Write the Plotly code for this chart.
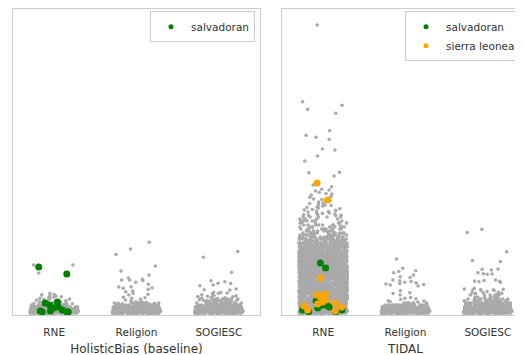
import numpy as np
import plotly.graph_objects as go

# ---------------- data (arbitrary score units) ----------------
categories = ["RNE", "Religion", "SOGIESC"]
panel_titles = ["HolisticBias (baseline)", "TIDAL"]

# dense cores read as a histogram: bin centres and number of points per bin
core_levels = [2, 4, 6, 8, 10, 12, 14, 16, 18, 20, 22, 24, 26, 28, 30, 32, 34, 36, 38, 40,
               42, 44, 46, 48, 50, 52, 54, 56, 58, 60, 62, 64, 66, 68, 70, 72, 74, 76, 78, 80,
               82, 84, 86, 88, 90, 92, 94, 96, 98]

hb_rne_core_counts = [60, 58, 52, 40, 16]
hb_religion_core_counts = [62, 60, 56, 48, 30, 8]
hb_sogiesc_core_counts = [62, 60, 56, 50, 38, 22, 12, 7]
tidal_rne_core_counts = [64, 64, 63, 63, 62, 62, 62, 61, 61, 61, 60, 60, 60, 60, 59, 59, 59, 58,
                         58, 58, 57, 57, 57, 56, 56, 56, 55, 55, 54, 52, 50, 47, 44, 40, 36, 32,
                         26, 22, 19, 16, 14, 12, 10, 9, 8, 7, 6, 5, 5]
tidal_religion_core_counts = [62, 60, 56, 46, 26, 8]
tidal_sogiesc_core_counts = [62, 60, 58, 54, 46, 34, 22, 14, 9, 6]

# points above the cores, grouped by how sparse they are
hb_rne_fringe = [21.6, 20.7, 20.1, 19.3, 19.0, 18.3, 17.8, 17.1, 16.7, 16.2, 15.9, 15.4, 14.8,
                 14.1, 13.9, 13.6, 13.2, 12.8, 12.6, 12.3, 12.0, 11.7, 11.4, 11.3, 11.1, 10.8]
hb_rne_outliers = [50, 50, 42, 40]

hb_religion_fringe = [24.0, 23.3, 21.7, 20.7, 20.0, 17.7, 17.3, 16.7, 15.7, 15.0, 14.0, 13.3,
                      13.1, 12.5, 12.2, 11.8, 11.6, 11.2, 11.0]
hb_religion_mid = [37.0, 35.7, 35.0, 35.0, 34.5, 32.7, 30.7, 28.3, 28.0, 27.3, 26.7, 25.7]
hb_religion_outliers = [72.7, 66.0, 60.5, 49.0, 44.0, 40.0]

hb_sogiesc_fringe = [22.7, 22.5, 22.0, 21.7, 20.7, 20.2, 19.5, 19.1, 18.8, 18.5, 18.2, 17.8,
                     17.3, 17.0, 16.9, 16.5, 16.1, 15.7, 15.5, 15.2, 14.7, 14.4, 14.2]
hb_sogiesc_mid = [34.3, 33.3, 31.7, 31.5, 30.0, 29.3, 26.0, 25.2, 25.0]
hb_sogiesc_outliers = [63.5, 57.7, 42.7]

tidal_rne_fringe = [130, 128.3, 125.7, 125, 124, 122.5, 121.5, 121, 120, 118.5, 117.7, 116,
                    115.5, 114, 113, 112, 111.5, 110.5, 110, 109.5, 109, 108, 107.5, 107, 106.2,
                    105.5, 105, 104.6, 104, 103.5, 103, 102.4, 102, 101.6, 101, 100.5, 100.2,
                    99.8, 99.5, 99.2]
tidal_rne_mid = [184.3, 179.7, 177.7, 175.7, 166, 165, 159, 154, 142.7, 142.3, 139]
tidal_rne_outliers = [290, 213.3, 209.7, 205.7, 201.7]

tidal_religion_fringe = [24.3, 22.3, 21.5, 20, 17.5, 16.7, 16.2, 15.5, 14.3, 14, 13.5, 13]
tidal_religion_mid = [56, 46.7, 44.3, 43.5, 42.3, 40, 38.3, 37.5, 35, 34.3, 33.5, 32.7, 32,
                      31.5, 31, 30.5, 30, 29]

tidal_sogiesc_fringe = [26.7, 26, 25.8, 25.5, 25.2, 25, 24.8, 24.5, 23.5, 22.8, 22.3, 22, 21.8,
                        21.5, 20.5]
tidal_sogiesc_mid = [46, 45.7, 45, 42.3, 41.2, 41, 40.8, 35, 34.5, 34, 33.8, 33.2, 32.8]
tidal_sogiesc_outliers = [85.7, 82.5, 63.3, 54.5, 53.5]

# highlighted groups (all in RNE)
hb_salvadoran = [48, 41, 13, 12, 10, 8, 7, 5, 4, 4, 3, 3, 3]
tidal_salvadoran = [52, 47, 14, 11, 10, 10, 8, 7, 5, 5, 3, 3]
tidal_sierra_leonean = [132, 115, 37, 21, 20, 18, 15, 13, 12, 11, 9, 8, 5, 4]

# ---------------- styling ----------------
GREY = "#aaaaaa"
GREEN = "#008000"
ORANGE = "#ffa500"
FRAME = "#cccccc"
TEXT = "#333333"
FONT = "DejaVu Sans"

fig = go.Figure()


def strip(xa, ya, cat, values, color, size):
    fig.add_trace(go.Box(
        x=[cat] * len(values), y=list(values), xaxis=xa, yaxis=ya,
        boxpoints="all", jitter=1, pointpos=0,
        fillcolor="rgba(0,0,0,0)", line=dict(width=0, color="rgba(0,0,0,0)"),
        marker=dict(color=color, size=size, line=dict(width=0), opacity=1),
        showlegend=False, hoverinfo="y",
    ))


panels = [
    ("x", "y",
     [hb_rne_core_counts, hb_religion_core_counts, hb_sogiesc_core_counts],
     [[hb_rne_fringe, hb_rne_outliers],
      [hb_religion_fringe, hb_religion_mid, hb_religion_outliers],
      [hb_sogiesc_fringe, hb_sogiesc_mid, hb_sogiesc_outliers]]),
    ("x2", "y2",
     [tidal_rne_core_counts, tidal_religion_core_counts, tidal_sogiesc_core_counts],
     [[tidal_rne_fringe, tidal_rne_mid, tidal_rne_outliers],
      [tidal_religion_fringe, tidal_religion_mid],
      [tidal_sogiesc_fringe, tidal_sogiesc_mid, tidal_sogiesc_outliers]]),
]
for xa, ya, cores, groups in panels:
    for cat, counts, spread_groups in zip(categories, cores, groups):
        core_vals = np.repeat(core_levels[:len(counts)], counts).astype(float)
        strip(xa, ya, cat, core_vals, GREY, 3.6)
        for g in spread_groups:
            strip(xa, ya, cat, g, GREY, 3.6)

# highlighted points; sparse high values drawn as their own jitter group
strip("x", "y", "RNE", [v for v in hb_salvadoran if v < 30], GREEN, 7)
strip("x", "y", "RNE", [v for v in hb_salvadoran if v >= 30], GREEN, 7)
strip("x2", "y2", "RNE", tidal_salvadoran, GREEN, 7)
strip("x2", "y2", "RNE", tidal_sierra_leonean, ORANGE, 7)

# legend entries
for name, color, xa, ya, lg in [("salvadoran", GREEN, "x", "y", "legend"),
                                ("salvadoran", GREEN, "x2", "y2", "legend2"),
                                ("sierra leonean", ORANGE, "x2", "y2", "legend2")]:
    fig.add_trace(go.Scatter(x=[None], y=[None], mode="markers", name=name,
                             marker=dict(color=color, size=5), xaxis=xa, yaxis=ya,
                             legend=lg, showlegend=True))

axis_common = dict(showgrid=False, zeroline=False, ticks="", showline=True,
                   linecolor=FRAME, linewidth=1, mirror=True)
xcommon = dict(type="category", categoryorder="array", categoryarray=categories,
               range=[-0.5, 2.5], tickfont=dict(size=10.5), ticklabelstandoff=7,
               **axis_common)

fig.update_layout(
    width=523, height=355,
    margin=dict(l=5, r=2, t=1, b=48),
    paper_bgcolor="white", plot_bgcolor="white",
    font=dict(family=FONT, color=TEXT, size=10.5),
    boxmode="overlay", boxgap=0.41, boxgroupgap=0,
    xaxis=dict(domain=[0, 0.4787],
               title=dict(text=panel_titles[0], font=dict(size=12), standoff=8), **xcommon),
    xaxis2=dict(domain=[0.5213, 1.0], anchor="y2",
                title=dict(text=panel_titles[1], font=dict(size=12), standoff=8), **xcommon),
    yaxis=dict(range=[0, 306], showticklabels=False, **axis_common),
    yaxis2=dict(range=[0, 306], showticklabels=False, anchor="x2", matches="y",
                **axis_common),
    legend=dict(x=0.469, xanchor="right", y=0.993, yanchor="top",
                bordercolor=FRAME, borderwidth=1, bgcolor="rgba(255,255,255,0.8)",
                font=dict(size=10.5, color=TEXT)),
    legend2=dict(x=0.7597, xanchor="left", y=0.993, yanchor="top",
                 bordercolor=FRAME, borderwidth=1, bgcolor="rgba(255,255,255,0.8)",
                 font=dict(size=10.5, color=TEXT)),
)

fig.write_html("out.html")
